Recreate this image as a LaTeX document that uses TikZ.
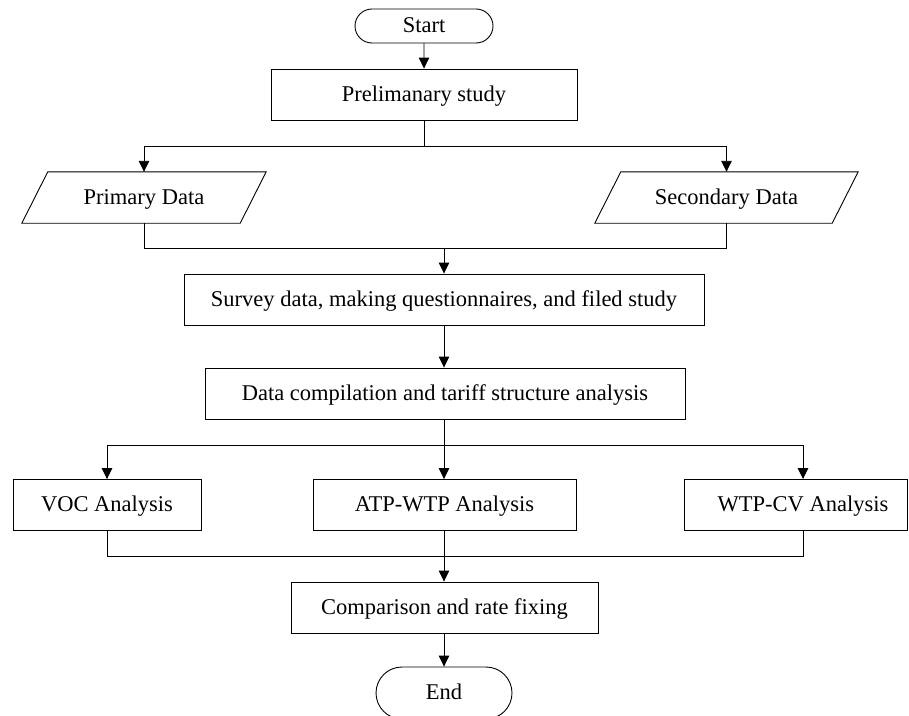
\documentclass[tikz,border=0pt]{standalone}
\usepackage{fontspec}
\setmainfont{Liberation Serif}
\usetikzlibrary{shapes.misc,arrows.meta}
\begin{document}
\begin{tikzpicture}[x=1pt,y=1pt,
  every node/.style={font=\fontsize{22.5}{27}\selectfont, inner sep=0pt, text height=15pt, text depth=2pt},
  box/.style={draw, line width=0.9pt, minimum height=51pt},
  term/.style={draw, line width=0.9pt, rounded rectangle},
  dat/.style={minimum height=51pt},
  link/.style={line width=0.9pt},
  arr/.style={link, -{Triangle[length=11pt,width=10.5pt]}}]
\useasboundingbox (0,0) rectangle (909,-715);
\fill[white] (0,0) rectangle (909,-715);
% nodes
\node[term, minimum width=138pt, minimum height=34pt] (start) at (424,-26) {Start};
\node[box, minimum width=306pt] (prelim) at (424,-94.5) {Prelimanary study};
\node[dat, minimum width=218pt] (prim) at (144,-197.5) {Primary Data};
\node[dat, minimum width=237pt] (sec) at (726.5,-197.5) {Secondary Data};
\draw[link] ([xshift=13pt]prim.north west) -- ([xshift=13pt]prim.north east)
  -- ([xshift=-13pt]prim.south east) -- ([xshift=-13pt]prim.south west) -- cycle;
\draw[link] ([xshift=13pt]sec.north west) -- ([xshift=13pt]sec.north east)
  -- ([xshift=-13pt]sec.south east) -- ([xshift=-13pt]sec.south west) -- cycle;
\node[box, minimum width=520pt] (survey) at (444,-299.5) {Survey data, making questionnaires, and filed study};
\node[box, minimum width=480pt] (datac) at (445,-393.5) {Data compilation and tariff structure analysis};
\node[box, minimum width=188pt] (voc) at (107,-505) {VOC Analysis};
\node[box, minimum width=263pt] (atp) at (444.5,-505) {ATP-WTP Analysis};
\node[box, minimum width=223pt] (wtp) at (795.5,-505) {\hspace*{15pt}WTP-CV Analysis};
\node[box, minimum width=307pt] (comp) at (444.5,-607.5) {Comparison and rate fixing};
\node[term, minimum width=136pt, minimum height=52pt] (end) at (444,-693) {End};
% connectors
\draw[arr] (start) -- (prelim);
\coordinate (j1) at (424,-146);
\draw[link] (prelim) -- (j1);
\draw[arr] (j1) -| (prim.north);
\draw[arr] (j1) -| (sec.north);
\coordinate (j2) at (444,-248);
\draw[link] (prim.south) |- (j2);
\draw[link] (sec.south) |- (j2);
\draw[arr] (j2) -- (survey.north);
\draw[arr] (survey.south) -- (survey.south |- datac.north);
\coordinate (j3) at (444,-445);
\draw[link] (j3 |- datac.south) -- (j3);
\draw[arr] (j3) -| (voc.north);
\draw[arr] (j3) -- (j3 |- atp.north);
\draw[arr] (j3) -| ([xshift=7.5pt]wtp.north);
\coordinate (j4) at (444,-556);
\draw[link] (voc.south) |- (j4);
\draw[link] ([xshift=7.5pt]wtp.south) |- (j4);
\draw[link] (j4 |- atp.south) -- (j4);
\draw[arr] (j4) -- (j4 |- comp.north);
\draw[arr] (end.north |- comp.south) -- (end.north);
\end{tikzpicture}
\end{document}
